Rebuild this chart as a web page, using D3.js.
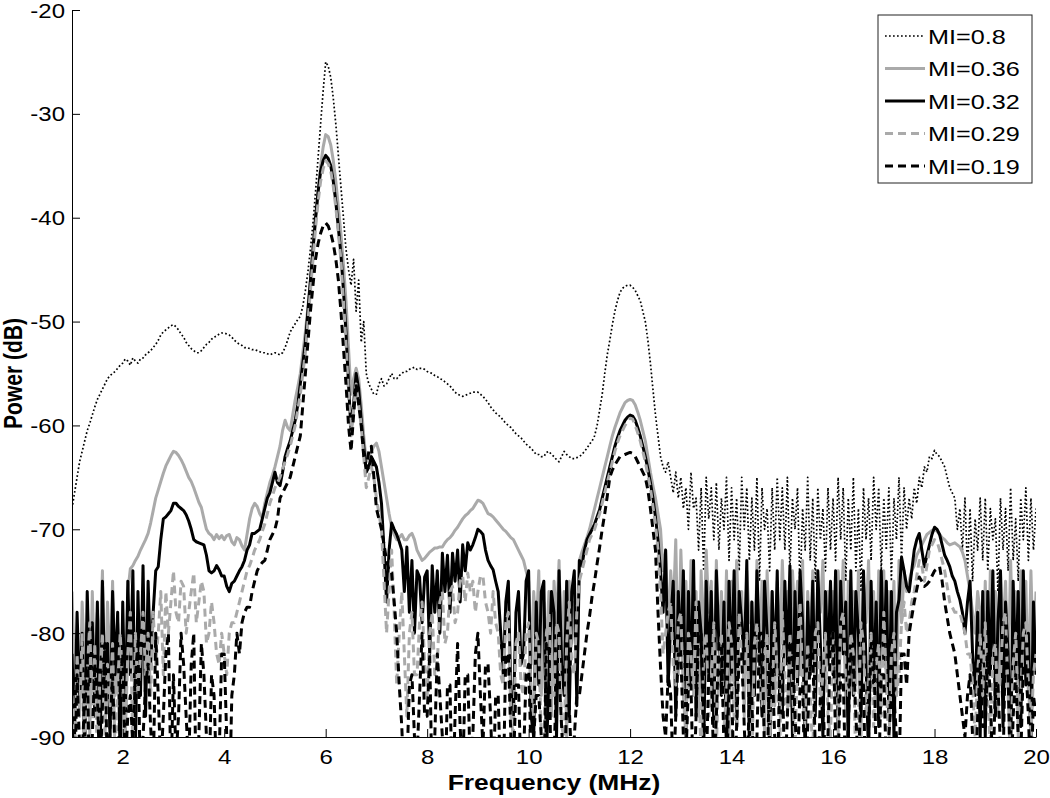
<!DOCTYPE html>
<html>
<head>
<meta charset="utf-8">
<script src="https://cdn.jsdelivr.net/npm/d3@7"></script>
<style>
  html, body { margin: 0; padding: 0; background: #fff; }
  svg { display: block; }
  text { font-family: "Liberation Sans", Arial, Helvetica, sans-serif; }
</style>
</head>
<body>
<svg id="chart" width="1050" height="798"></svg>
<script>
// ---------------- DATA ----------------
const freqMHz = [
 1,1.05,1.1,1.15,1.2,1.25,1.3,1.35,1.4,1.45,1.5,1.55,1.6,1.65,1.7,1.75,1.8,1.85,1.9,1.95,
 2,2.05,2.1,2.15,2.2,2.25,2.3,2.35,2.4,2.45,2.5,2.55,2.6,2.65,2.7,2.75,2.8,2.85,2.9,2.95,
 3,3.05,3.1,3.15,3.2,3.25,3.3,3.35,3.4,3.45,3.5,3.55,3.6,3.65,3.7,3.75,3.8,3.85,3.9,3.95,
 4,4.05,4.1,4.15,4.2,4.25,4.3,4.35,4.4,4.45,4.5,4.55,4.6,4.65,4.7,4.75,4.8,4.85,4.9,4.95,
 5,5.05,5.1,5.15,5.2,5.25,5.3,5.35,5.4,5.45,5.5,5.55,5.6,5.65,5.7,5.75,5.8,5.85,5.9,5.95,
 6,6.05,6.1,6.15,6.2,6.25,6.3,6.35,6.4,6.45,6.5,6.55,6.6,6.65,6.7,6.75,6.8,6.85,6.9,6.95,
 7,7.05,7.1,7.15,7.2,7.25,7.3,7.35,7.4,7.45,7.5,7.55,7.6,7.65,7.7,7.75,7.8,7.85,7.9,7.95,
 8,8.05,8.1,8.15,8.2,8.25,8.3,8.35,8.4,8.45,8.5,8.55,8.6,8.65,8.7,8.75,8.8,8.85,8.9,8.95,
 9,9.05,9.1,9.15,9.2,9.25,9.3,9.35,9.4,9.45,9.5,9.55,9.6,9.65,9.7,9.75,9.8,9.85,9.9,9.95,
 10,10.05,10.1,10.15,10.2,10.25,10.3,10.35,10.4,10.45,10.5,10.55,10.6,10.65,10.7,10.75,10.8,10.85,10.9,10.95,
 11,11.05,11.1,11.15,11.2,11.25,11.3,11.35,11.4,11.45,11.5,11.55,11.6,11.65,11.7,11.75,11.8,11.85,11.9,11.95,
 12,12.05,12.1,12.15,12.2,12.25,12.3,12.35,12.4,12.45,12.5,12.55,12.6,12.65,12.7,12.75,12.8,12.85,12.9,12.95,
 13,13.05,13.1,13.15,13.2,13.25,13.3,13.35,13.4,13.45,13.5,13.55,13.6,13.65,13.7,13.75,13.8,13.85,13.9,13.95,
 14,14.05,14.1,14.15,14.2,14.25,14.3,14.35,14.4,14.45,14.5,14.55,14.6,14.65,14.7,14.75,14.8,14.85,14.9,14.95,
 15,15.05,15.1,15.15,15.2,15.25,15.3,15.35,15.4,15.45,15.5,15.55,15.6,15.65,15.7,15.75,15.8,15.85,15.9,15.95,
 16,16.05,16.1,16.15,16.2,16.25,16.3,16.35,16.4,16.45,16.5,16.55,16.6,16.65,16.7,16.75,16.8,16.85,16.9,16.95,
 17,17.05,17.1,17.15,17.2,17.25,17.3,17.35,17.4,17.45,17.5,17.55,17.6,17.65,17.7,17.75,17.8,17.85,17.9,17.95,
 18,18.05,18.1,18.15,18.2,18.25,18.3,18.35,18.4,18.45,18.5,18.55,18.6,18.65,18.7,18.75,18.8,18.85,18.9,18.95,
 19,19.05,19.1,19.15,19.2,19.25,19.3,19.35,19.4,19.45,19.5,19.55,19.6,19.65,19.7,19.75,19.8,19.85,19.9,19.95,
 20
];

// MI = 0.8 (dotted black)
const powerMI080 = [
 -68,-66.5,-65,-63.5,-62.5,-61.5,-60.5,-59.8,-59,-58.2,-57.5,-57,-56.5,-56,-55.5,-55.2,-55,-54.8,-54.5,-54.2,
 -54,-53.6,-53.8,-54.2,-53.5,-53.8,-54,-53.6,-53.5,-53.2,-53,-52.8,-52.5,-52.2,-51.8,-51.3,-51,-50.8,-50.6,-50.4,
 -50.3,-50.5,-50.8,-51.2,-51.5,-52,-52.3,-52.6,-52.8,-53,-53,-52.8,-52.5,-52.2,-52,-51.7,-51.5,-51.4,-51.2,-51.1,
 -51.1,-51.2,-51.3,-51.5,-51.8,-52,-52.2,-52.3,-52.5,-52.5,-52.6,-52.7,-52.7,-52.8,-52.9,-53,-53,-53.1,-53.2,-53.1,
 -53,-53.1,-53.2,-53,-52.5,-51.8,-51,-50.6,-50.2,-49.8,-49.5,-48.5,-47,-45.2,-43,-40.5,-37.5,-34.2,-31,-27.8,
 -25,-25.4,-26.5,-28.5,-31,-34,-37,-40,-43,-45,-46.5,-44,-49,-46,-52,-50,-55,-56,-56.5,-57,
 -57,-56,-55.5,-56.2,-56,-55.5,-55,-55.5,-55.5,-55.2,-55,-54.8,-54.8,-54.6,-54.5,-54.4,-54.6,-54.5,-54.5,-54.6,
 -54.8,-54.9,-55,-55.2,-55.3,-55.5,-55.6,-55.8,-56,-56.2,-56.5,-56.8,-57,-57.1,-57.2,-57.1,-57,-56.9,-56.8,-56.8,
 -56.8,-57,-57.2,-57.5,-57.8,-58.2,-58.5,-58.8,-59,-59.2,-59.5,-59.8,-60,-60.2,-60.5,-60.8,-61,-61.2,-61.5,-61.8,
 -62,-62.2,-62.5,-62.8,-62.8,-63,-63,-62.6,-62.5,-62.8,-63,-63.3,-63.5,-63,-62.5,-62.8,-63,-63.2,-63.2,-63.1,
 -63,-62.8,-62.5,-62.2,-61.8,-61.5,-61,-60,-58.5,-57,-55,-53.2,-51.8,-50.3,-49,-48,-47.2,-46.8,-46.6,-46.5,
 -46.5,-46.7,-47,-47.5,-48,-49,-50,-51.8,-54,-56.5,-59,-61,-63,-64,-64.5,-63.5,-65,-66.5,-64.5,-67,
 -65,-68,-66,-70,-64.5,-68,-67,-72,-66,-74,-65,-69,-66,-71,-65.5,-72,-67,-70,-65,-73,
 -66,-71,-67,-74,-65,-70,-66,-73,-67,-72,-65,-75,-66,-70,-68,-74,-66,-72,-65,-71,
 -66,-72,-65,-74,-67,-70,-66,-76,-68,-72,-65,-73,-67,-75,-66,-71,-68,-74,-66,-72,
 -67,-73,-65,-71,-66,-75,-67,-72,-65,-74,-68,-76,-66,-71,-67,-73,-65,-70,-66,-74,
 -67,-72,-66,-75,-67,-71,-65,-73,-66,-70,-67,-69,-66,-67.5,-65,-66,-64,-64.5,-63,-63.2,
 -62.4,-62.8,-63,-63.5,-64,-65,-66,-66.5,-67,-70,-68,-72,-67,-74,-68,-75,-69,-72,-67,-73,
 -67,-74,-68,-71,-69,-76,-67,-72,-68,-74,-66,-73,-69,-75,-67,-71,-66,-73,-67,-72,
 -68
];

// MI = 0.36 (solid grey)
const powerMI036 = [
 -76,-84,-80,-88,-77,-83,-79,-90,-76,-85,-78,-82,-74,-87,-77,-84,-75,-86,-79,-83,
 -80,-88,-76,-73.8,-73.5,-73,-72.6,-72,-71.5,-71,-70.4,-69.4,-68.2,-67,-66.2,-65.4,-64.6,-63.9,-63.4,-62.9,
 -62.5,-62.6,-62.9,-63.3,-63.8,-64.4,-65,-65.4,-66,-66.7,-67.4,-67.9,-69,-70,-70.4,-70.6,-71,-70.5,-70.9,-70.6,
 -71,-70.6,-70.5,-71.2,-71.5,-70.8,-71,-71.6,-72,-70.5,-69,-68,-67.5,-67.8,-68.5,-68.9,-67.5,-66.5,-65.5,-64.8,
 -64,-63,-62,-60.5,-59.5,-60.2,-60.5,-59,-57.5,-56.3,-55,-53,-51,-48.6,-46,-43.2,-40.5,-37.8,-35,-33.2,
 -32,-32.2,-33,-34.5,-36.5,-39,-41.5,-44.5,-48,-52.5,-57,-55.5,-54.5,-55.5,-58,-61,-63.5,-63,-62.5,-62,
 -61.7,-62.5,-64,-65.5,-67,-68.5,-69.8,-70.5,-71,-70.8,-70.5,-71,-71,-70.6,-70.4,-71,-72,-72.5,-73,-72.8,
 -72.5,-72.2,-72,-71.8,-71.8,-71.7,-71.7,-71.3,-71,-70.8,-70.5,-70.1,-69.8,-69.4,-69,-68.7,-68.5,-68.2,-68,-67.6,
 -67.2,-67.3,-67.5,-68,-68.5,-68.6,-68.8,-69.1,-69.4,-69.7,-70,-70.2,-70.5,-70.8,-71,-71.5,-72,-72.5,-73,-74,
 -75,-83,-76,-80,-74,-86,-77,-82,-76,-88,-75,-79,-73,-84,-76,-90,-75,-81,-77,-85,
 -73,-72.2,-71.5,-70.8,-70,-69,-68,-67,-66,-65,-64,-63,-62,-61,-60.2,-59.5,-58.8,-58.3,-57.8,-57.6,
 -57.5,-57.6,-58,-58.7,-59.5,-60.5,-61.5,-63,-64.5,-65.8,-67,-68.5,-70,-74,-72,-80,-74,-78,-71,-84,
 -72,-79,-75,-84,-73,-80,-76,-88,-74,-82,-72,-78,-75,-86,-73,-81,-76,-84,-74,-90,
 -75,-85,-73,-80,-76,-88,-74,-79,-77,-86,-73,-83,-75,-90,-74,-81,-76,-87,-75,-82,
 -73,-80,-76,-87,-74,-79,-75,-84,-73,-89,-76,-81,-74,-86,-75,-78,-73,-85,-76,-82,
 -76,-86,-74,-80,-73,-88,-75,-82,-76,-85,-74,-90,-75,-79,-73,-84,-76,-87,-74,-81,
 -74,-85,-76,-81,-75,-86,-73,-79,-74,-76,-75,-74,-73.5,-72.5,-72,-71.5,-71,-70.5,-70.3,-70.1,
 -70,-70.2,-70.5,-70.8,-71,-71.3,-71.5,-71.4,-71.3,-71.5,-71.7,-72.2,-73,-74.5,-76,-78,-80,-76,-78,-84,
 -75,-86,-74,-81,-76,-88,-74,-80,-75,-85,-73,-82,-76,-90,-74,-79,-75,-86,-74,-83,
 -76
];

// MI = 0.32 (solid black)
const powerMI032 = [
 -82,-90,-78,-86,-80,-92,-76,-85,-79,-88,-77,-94,-75,-86,-81,-90,-76,-84,-78,-93,
 -77,-89,-75,-84,-74,-91,-76,-86,-73.5,-88,-75,-83,-78,-74,-73.6,-71,-69,-68.8,-68.5,-68.2,
 -67.5,-67.5,-67.8,-68,-68.2,-68.6,-69.2,-70,-71,-71.2,-71.3,-71.4,-71.5,-72.5,-74,-74.2,-74,-73.5,-73.9,-74.5,
 -74.5,-75.5,-76,-75.2,-75,-74.5,-74,-73.6,-73,-72,-71.5,-70.4,-70.4,-70.2,-70,-69,-68,-67,-66.5,-65.5,
 -64.5,-65.5,-65.8,-64.5,-63,-62.2,-61.5,-60.5,-59.5,-58,-56,-54,-52,-49,-46,-43,-40,-37.5,-35.5,-34.5,
 -34,-34.3,-35,-36.5,-38.5,-41,-43.5,-47,-51,-56,-60.5,-58,-55,-56.5,-59.5,-62,-64.5,-64,-63,-63.5,
 -64,-65.5,-67.5,-72,-77,-72,-69.4,-70,-70.5,-71.2,-72,-76,-71.7,-78,-73,-80,-74,-74.6,-79,-74.6,
 -74,-82,-73.5,-78,-74,-80,-72.3,-76,-72.5,-78,-72.3,-75,-72,-77,-71.5,-74,-71.3,-72,-71.5,-70.8,
 -70,-70.2,-70.5,-72,-73,-73.5,-73.9,-75,-76,-80,-84,-77,-75,-86,-88,-78,-76,-83,-82,-75,
 -74,-88,-90,-77,-85,-76,-75,-92,-84,-76,-78,-90,-74,-83,-86,-75,-88,-76,-74,-87,
 -73,-73.5,-72,-71,-70.5,-70,-69.5,-68.8,-68.1,-67,-66,-65,-64,-63,-62,-61.2,-60.5,-60,-59.5,-59.2,
 -59,-59.1,-59.5,-60.2,-61,-62,-63,-64.2,-65.5,-67,-68.8,-71,-74,-78,-72,-85,-79,-75,-88,-76,
 -82,-74,-90,-76,-85,-73,-88,-77,-80,-92,-75,-84,-76,-89,-74,-81,-86,-77,-92,-75,
 -84,-74,-89,-76,-79,-83,-73,-91,-77,-86,-74,-82,-88,-75,-80,-92,-76,-84,-74,-87,
 -88,-75,-83,-73.5,-90,-76,-85,-74,-79,-92,-77,-84,-75,-88,-74,-81,-90,-76,-83,-75,
 -84,-74,-89,-75,-82,-77,-91,-74,-86,-76,-80,-88,-74,-83,-92,-75,-85,-77,-89,-74,
 -83,-75,-88,-76,-90,-78,-76.8,-72.7,-74,-75.5,-76,-74,-72,-71,-70.4,-72,-73.6,-72.5,-71.5,-70.5,
 -69.8,-70,-70.5,-71.5,-72.5,-73,-73.6,-74.5,-75,-76,-76.8,-78,-80,-77,-75,-82,-86,-78,-90,-76,
 -90,-76,-84,-74,-88,-79,-74,-89,-77,-82,-92,-75,-84,-76,-89,-74,-85,-80,-91,-77,
 -84
];

// MI = 0.29 (dashed grey)
const powerMI029 = [
 -86,-92,-82,-88,-80,-91,-84,-79,-89,-81,-93,-84,-80,-90,-83,-87,-81,-92,-85,-80,
 -85,-90,-82,-78,-92,-80,-86,-82,-78,-84,-80,-86,-78,-83,-80,-76,-84,-76,-80,-77,
 -74,-78,-79,-75,-75.5,-80,-78,-76,-74.2,-79,-77,-75,-76,-81,-80,-77,-79,-82,-83,-80,
 -82,-84,-80,-79,-79,-78,-77,-76,-75,-74,-73.5,-72.8,-72,-71.5,-71,-70.2,-69.5,-68.5,-67.5,-66.8,
 -66,-65.5,-65,-64.2,-63.5,-62.8,-62,-61,-60,-58.5,-57,-55,-53,-50,-47,-44,-41,-38.5,-36.5,-35.3,
 -34.5,-34.8,-35.5,-37,-39,-41.5,-44,-48,-52,-57,-61,-58.5,-56,-58,-60,-63,-66,-65,-64,-65,
 -67,-68.5,-70,-75,-80,-76,-72,-78,-85,-80,-76,-82,-88,-80,-78,-84,-84,-79,-77,-83,
 -86,-80,-78,-84,-83,-77,-76,-81,-80,-76,-75.5,-79,-78,-75,-74.5,-77,-74.2,-76,-75,-78,
 -76,-74.5,-74.5,-77,-78,-80,-76,-79,-80,-84,-85,-79,-78,-88,-90,-81,-80,-85,-86,-80,
 -79,-86,-88,-80,-81,-90,-92,-80,-78,-85,-86,-79,-80,-89,-90,-81,-77,-83,-84,-78,
 -75,-74,-73,-72,-71,-70.5,-70,-69.2,-68.5,-67.5,-66.5,-65.5,-64.5,-63.5,-62.5,-61.7,-61,-60.5,-60,-59.6,
 -59.3,-59.4,-60,-60.7,-61.5,-62.5,-63.5,-64.8,-66,-67.8,-69.5,-72,-76,-82,-80,-78,-77,-83,-85,-79,
 -78,-86,-90,-80,-82,-86,-77,-84,-92,-82,-80,-88,-85,-79,-91,-83,-80,-89,-86,-79,
 -81,-88,-89,-78,-83,-86,-80,-87,-93,-81,-79,-85,-87,-82,-80,-90,-86,-79,-84,-91,
 -78,-84,-88,-80,-85,-91,-82,-77,-85,-89,-81,-86,-92,-80,-79,-87,-84,-80,-88,-90,
 -80,-86,-90,-79,-78,-85,-86,-80,-82,-93,-88,-79,-81,-88,-85,-80,-89,-83,-81,-88,
 -78,-85,-91,-82,-80,-86,-84,-79,-77,-80,-79,-77,-76,-74.5,-73,-73.5,-75,-73.5,-72,-71.5,
 -71,-71.2,-72,-73,-74,-75.5,-77,-77.5,-78,-78,-78,-79,-80,-82,-82,-85,-90,-84,-80,-86,
 -79,-86,-91,-82,-81,-87,-84,-79,-78,-86,-92,-83,-80,-88,-86,-80,-79,-85,-90,-84,
 -82
];

// MI = 0.19 (dashed black)
const powerMI019 = [
 -88,-95,-84,-91,-92,-86,-82,-97,-90,-83,-86,-94,-87,-81,-95,-89,-84,-92,-96,-85,
 -82,-93,-88,-86,-91,-84,-81,-95,-90,-85,-83,-89,-94,-80,-86,-93,-88,-82,-80,-94,
 -84,-92,-88,-80,-83,-88,-93,-83,-80,-96,-90,-81,-84,-90,-95,-84,-86,-94,-92,-82,
 -82,-90,-97,-86,-84,-80,-82,-79,-78,-77.5,-77.5,-76,-75,-74,-73.5,-73.2,-73,-72,-71,-70.5,
 -70,-69,-67,-66.5,-66,-65.5,-65,-64,-63,-62,-61,-58,-55,-52,-49,-46.5,-44,-42.5,-41.5,-40.8,
 -40.5,-40.8,-41.5,-42.5,-44,-46,-49,-52.5,-56,-60,-62.5,-59,-56,-58,-60,-63,-64,-62.5,-62,-65,
 -68,-69,-70,-71.5,-73,-74,-74.2,-77,-80,-85,-89,-95,-93,-85,-84,-90,-92,-86,-80,-88,
 -88,-82,-96,-90,-82,-86,-90,-97,-85,-85,-97,-88,-81,-89,-94,-84,-84,-93,-90,-82,
 -80,-86,-91,-83,-83,-88,-95,-86,-86,-95,-95,-82,-82,-90,-93,-85,-85,-94,-92,-84,
 -83,-92,-90,-86,-86,-90,-96,-81,-81,-96,-92,-84,-84,-89,-94,-87,-87,-93,-90,-86,
 -86,-84,-82,-80,-78.4,-76.5,-75,-73.3,-71.7,-70,-68.5,-66.8,-65,-64.3,-63.8,-63.4,-63,-62.9,-62.8,-62.7,
 -62.6,-62.7,-63,-63.5,-64,-64.5,-65,-66.2,-68,-70,-72,-78,-83.3,-88,-90,-84,-86,-94,-88,-82,
 -82,-90,-92,-85,-85,-96,-88,-80,-80,-88,-93,-84,-84,-93,-88,-81,-81,-91,-94,-85,
 -85,-95,-89,-82,-82,-89,-95,-86,-86,-97,-90,-80,-80,-92,-94,-83,-83,-90,-95,-84,
 -84,-94,-88,-81,-81,-88,-93,-85,-85,-96,-89,-82,-82,-91,-95,-86,-86,-93,-90,-80,
 -80,-90,-92,-84,-84,-95,-89,-82,-82,-88,-93,-85,-85,-97,-90,-81,-81,-92,-94,-84,
 -84,-93,-90,-86,-86,-90,-94,-82,-82,-85,-80,-78.5,-77,-75.8,-74.6,-75,-75.5,-75.3,-75,-74.5,
 -74,-73.8,-73.6,-75,-77,-78.5,-80,-81,-82,-84,-86,-88,-90,-86,-84,-90,-95,-88,-83,-89,
 -89,-82,-86,-94,-85,-85,-91,-93,-80,-84,-96,-88,-84,-90,-92,-83,-83,-88,-95,-86,
 -88
];

const seriesLabels = ["MI=0.8", "MI=0.36", "MI=0.32", "MI=0.29", "MI=0.19"];
const xTicks = [2, 4, 6, 8, 10, 12, 14, 16, 18, 20];
const yTicks = [-90, -80, -70, -60, -50, -40, -30, -20];
const xDomain = [1, 20];
const yDomain = [-90, -20];
const xLabel = "Frequency (MHz)";
const yLabel = "Power (dB)";

// ---------------- STYLES ----------------
const seriesValues = [powerMI080, powerMI036, powerMI032, powerMI029, powerMI019];
const styles = [
  { color: "#000000", width: 1.7, dash: "1.7,2.3" },
  { color: "#aaaaaa", width: 3,   dash: null },
  { color: "#000000", width: 3,   dash: null },
  { color: "#aaaaaa", width: 3,   dash: "8,5" },
  { color: "#000000", width: 3,   dash: "8,5" }
];
const SX = 1.2; // horizontal text stretch seen in the reference

// ---------------- CHART ----------------
const svg = d3.select("#chart");
const margin = { left: 72, top: 10, right: 14, bottom: 61 };
const W = 1050, H = 798;
const iw = W - margin.left - margin.right;   // 964
const ih = H - margin.top - margin.bottom;   // 727

const x = d3.scaleLinear().domain(xDomain).range([0, iw]);
const y = d3.scaleLinear().domain(yDomain).range([ih, 0]);

const g = svg.append("g").attr("transform", `translate(${margin.left},${margin.top})`);

g.append("clipPath").attr("id", "plotclip")
  .append("rect").attr("x", 0).attr("y", 0).attr("width", iw).attr("height", ih);

const plot = g.append("g").attr("clip-path", "url(#plotclip)");
seriesValues.forEach((vals, k) => {
  const s = styles[k];
  const n = Math.min(vals.length, freqMHz.length);
  const pts = d3.range(n).map(i => [freqMHz[i], vals[i]]);
  plot.append("path")
    .datum(pts)
    .attr("fill", "none")
    .attr("stroke", s.color)
    .attr("stroke-width", s.width)
    .attr("stroke-linejoin", "round")
    .attr("stroke-dasharray", s.dash)
    .attr("d", d3.line().x(d => x(d[0])).y(d => y(d[1])));
});

// axes (MATLAB style: ticks inside)
const xAxis = d3.axisBottom(x).tickValues(xTicks).tickSizeInner(-8).tickSizeOuter(0).tickPadding(13).tickFormat(d3.format("d"));
const yAxis = d3.axisLeft(y).tickValues(yTicks).tickSizeInner(-8).tickSizeOuter(0).tickPadding(7).tickFormat(d => String(d));

const gx = g.append("g").attr("transform", `translate(0,${ih})`).call(xAxis);
const gy = g.append("g").call(yAxis);
[gx, gy].forEach(a => {
  a.select(".domain").attr("stroke", "#000").attr("stroke-width", 1);
  a.selectAll(".tick line").attr("stroke", "#000").attr("stroke-width", 1);
  a.selectAll(".tick text").attr("fill", "#000").style("font-size", "20px")
    .style("font-family", "'Liberation Sans', Arial, sans-serif");
});
gx.selectAll(".tick text").attr("transform", `scale(${SX},1)`);
gy.selectAll(".tick text").attr("x", -7 / SX).attr("dy", "0.35em").attr("transform", `scale(${SX},1)`);

// axis labels
svg.append("text")
  .attr("transform", `translate(${margin.left + iw / 2},790) scale(${SX},1)`)
  .attr("text-anchor", "middle")
  .style("font-size", "22px").style("font-weight", "bold")
  .text(xLabel);

svg.append("text")
  .attr("transform", `translate(22,${margin.top + ih / 2}) scale(${SX},1) rotate(-90)`)
  .attr("text-anchor", "middle")
  .style("font-size", "21px").style("font-weight", "bold")
  .text(yLabel);

// legend
const lg = svg.append("g").attr("transform", "translate(878,15)");
lg.append("rect").attr("x", 0).attr("y", 0).attr("width", 154).attr("height", 168)
  .attr("fill", "#fff").attr("stroke", "#222").attr("stroke-width", 1);
seriesLabels.forEach((lab, k) => {
  const s = styles[k];
  const cy = 21 + k * 32.5;
  lg.append("line").attr("x1", 7).attr("x2", 47).attr("y1", cy).attr("y2", cy)
    .attr("stroke", s.color).attr("stroke-width", s.width)
    .attr("stroke-dasharray", s.dash);
  lg.append("text").attr("transform", `translate(50,${cy}) scale(${SX},1)`)
    .attr("dy", "0.36em")
    .style("font-size", "21px").attr("fill", "#000").text(lab);
});
</script>
</body>
</html>
